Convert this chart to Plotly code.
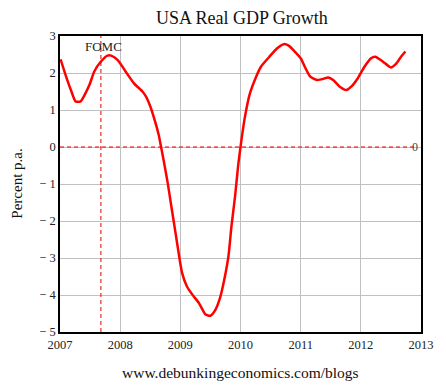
import plotly.graph_objects as go

years = [2007.01, 2007.11, 2007.19, 2007.26, 2007.34, 2007.41, 2007.49, 2007.57, 2007.68, 2007.79,
         2007.85, 2007.96, 2008.09, 2008.23, 2008.37, 2008.43, 2008.50, 2008.58, 2008.64, 2008.68,
         2008.72, 2008.79, 2008.85, 2008.92, 2008.98, 2009.03, 2009.11, 2009.20, 2009.31, 2009.42,
         2009.50, 2009.58, 2009.66, 2009.73, 2009.80, 2009.85, 2009.91, 2009.96, 2010.00, 2010.07,
         2010.15, 2010.26, 2010.34, 2010.48, 2010.61, 2010.72, 2010.80, 2010.89, 2011.00, 2011.08,
         2011.16, 2011.27, 2011.35, 2011.46, 2011.54, 2011.65, 2011.76, 2011.84, 2011.95, 2012.06,
         2012.17, 2012.24, 2012.33, 2012.42, 2012.50, 2012.58, 2012.66, 2012.74]
growth = [2.37, 1.86, 1.50, 1.23, 1.23, 1.41, 1.68, 2.04, 2.31, 2.47,
          2.47, 2.35, 2.04, 1.72, 1.50, 1.36, 1.10, 0.69, 0.33, 0.0,
          -0.34, -0.97, -1.60, -2.32, -2.95, -3.41, -3.77, -3.99, -4.22, -4.53,
          -4.56, -4.41, -4.08, -3.59, -2.95, -2.14, -1.33, -0.52, 0.0, 0.78,
          1.41, 1.90, 2.17, 2.44, 2.67, 2.78, 2.74, 2.60, 2.40, 2.13,
          1.90, 1.81, 1.83, 1.88, 1.81, 1.63, 1.54, 1.63, 1.86, 2.17,
          2.40, 2.44, 2.35, 2.24, 2.15, 2.24, 2.42, 2.58]

x_ticks = [2007, 2008, 2009, 2010, 2011, 2012, 2013]
y_ticks = [3, 2, 1, 0, -1, -2, -3, -4, -5]
y_ticktext = ["3", "2", "1", "0", "\u2212 1", "\u2212 2", "\u2212 3", "\u2212 4", "\u2212 5"]
fomc_year = 2007.68

serif = "Liberation Serif, Times New Roman, serif"

# page has an 8px body margin, so the figure is sized to fit the 446x385 window
W, H = 438, 377

fig = go.Figure()
fig.add_trace(go.Scatter(x=years, y=growth, mode="lines",
                         line=dict(color="#ff0000", width=2.5, shape="spline", smoothing=0.6),
                         showlegend=False, hoverinfo="skip"))

fig.add_shape(type="line", xref="x", yref="paper", x0=fomc_year, x1=fomc_year, y0=0, y1=1,
              line=dict(color="#e00000", width=1, dash="4px,3px"))
fig.add_shape(type="line", xref="paper", yref="y", x0=0, x1=0.985, y0=0, y1=0,
              line=dict(color="#e00000", width=1, dash="4px,3px"))

fig.add_annotation(x=fomc_year + 0.04, y=2.72, xref="x", yref="y", text="FOMC", showarrow=False,
                   font=dict(family=serif, size=13, color="#222"), xanchor="center", yanchor="middle")
fig.add_annotation(x=2012.99, y=0, xref="x", yref="y", text="0", showarrow=False,
                   font=dict(family=serif, size=12, color="#444"), xanchor="right", yanchor="middle")
fig.add_annotation(x=0.5, y=-0.1, xref="paper", yref="paper", text="www.debunkingeconomics.com/blogs",
                   showarrow=False, font=dict(family=serif, size=15.5, color="#111"),
                   xanchor="center", yanchor="top")
fig.add_annotation(x=-0.12, y=0.5, xref="paper", yref="paper", text="Percent p.a.", textangle=-90,
                   showarrow=False, font=dict(family=serif, size=15, color="#111"),
                   xanchor="center", yanchor="middle")

fig.update_layout(
    width=W, height=H,
    margin=dict(l=52, r=20, t=28, b=53),
    paper_bgcolor="white", plot_bgcolor="white",
    title=dict(text="USA Real GDP Growth", x=0.534, xanchor="center", y=0.974, yanchor="middle",
               font=dict(family=serif, size=18, color="#111")),
    font=dict(family=serif, size=12, color="#222"),
)
fig.update_xaxes(range=[2007, 2013], tickvals=x_ticks, ticktext=[str(v) for v in x_ticks],
                 showgrid=True, gridcolor="#c0c0c0", gridwidth=1,
                 showline=True, linecolor="black", linewidth=1.5, mirror=True,
                 zeroline=False, ticks="", ticklen=0, tickfont=dict(family=serif, size=12.5, color="#222"))
fig.update_yaxes(range=[-5, 3], tickvals=y_ticks, ticktext=y_ticktext,
                 showgrid=True, gridcolor="#c0c0c0", gridwidth=1,
                 showline=True, linecolor="black", linewidth=1.5, mirror=True,
                 zeroline=False, ticks="", ticklen=0, tickfont=dict(family=serif, size=12.5, color="#222"))

fig.write_html("out.html")
